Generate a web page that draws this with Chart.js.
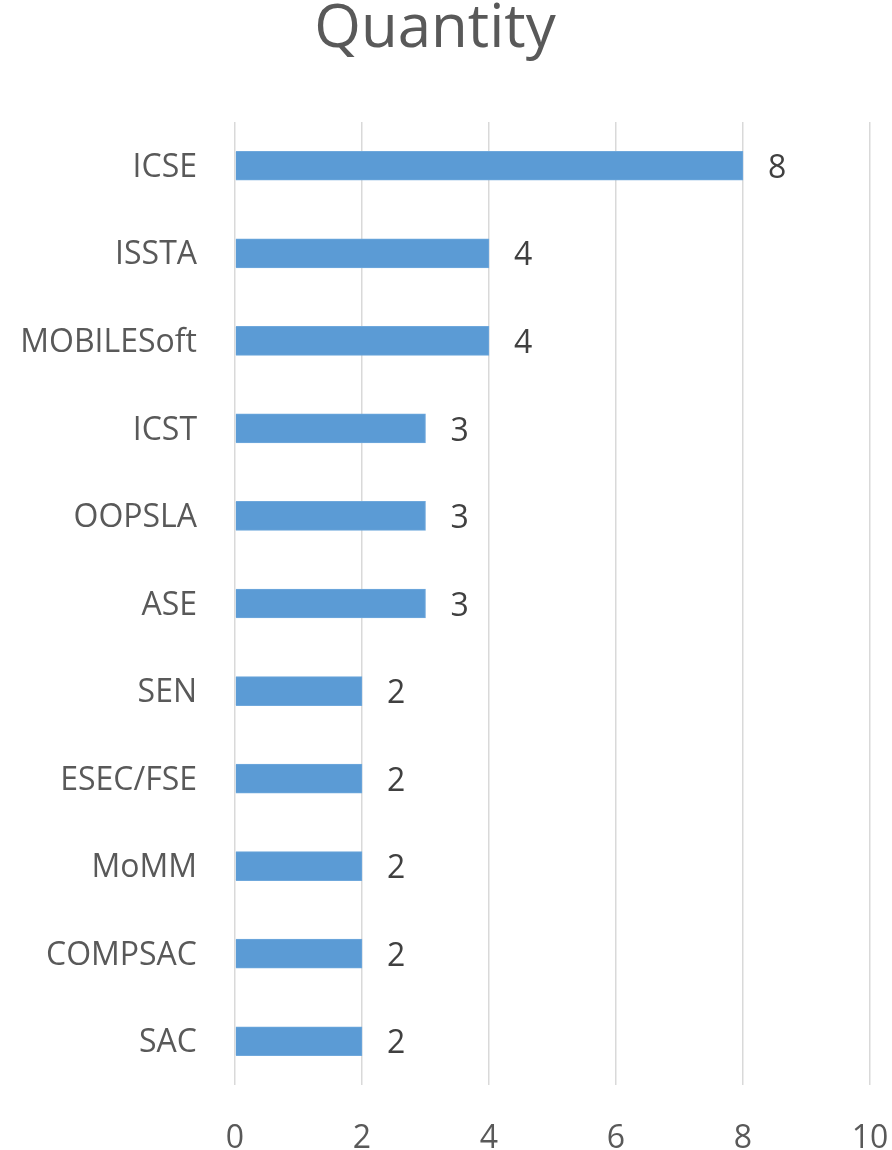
<!DOCTYPE html>
<html>
<head>
<meta charset="utf-8">
<script src="https://cdn.jsdelivr.net/npm/chart.js@4"></script>
<style>
	html, body { margin: 0; padding: 0; background: #fff; }
	#wrap { width: 892px; height: 1150px; }
</style>
</head>
<body>
<div id="wrap"><canvas id="quantityChart"></canvas></div>
<script>
const venues = ["ICSE", "ISSTA", "MOBILESoft", "ICST", "OOPSLA", "ASE", "SEN", "ESEC/FSE", "MoMM", "COMPSAC", "SAC"];
const quantities = [8, 4, 4, 3, 3, 3, 2, 2, 2, 2, 2];
const xTicks = [0, 2, 4, 6, 8, 10];

const fontFamily = "'Open Sans', sans-serif";

// draws the value next to the end of each bar
const valueLabels = {
	id: "valueLabels",
	afterDatasetsDraw(chart) {
		const ctx = chart.ctx;
		const meta = chart.getDatasetMeta(0);
		ctx.save();
		ctx.font = "32px " + fontFamily;
		ctx.fillStyle = "#404040";
		ctx.textAlign = "left";
		ctx.textBaseline = "middle";
		meta.data.forEach((bar, i) => {
			ctx.fillText(String(quantities[i]), bar.x + 25, bar.y + 3);
		});
		ctx.restore();
	}
};

const quantityCtx = document.getElementById("quantityChart");
const quantityChart = new Chart(quantityCtx, {
	type: "bar",
	data: {
		labels: venues,
		datasets: [{
			label: "Quantity",
			data: quantities,
			backgroundColor: "#5B9BD5",
			borderColor: "#6fa8dc",
			borderWidth: 1,
			barThickness: 29
		}]
	},
	plugins: [valueLabels],
	options: {
		indexAxis: "y",
		responsive: true,
		maintainAspectRatio: false,
		animation: false,
		layout: { padding: { left: 0, right: 22, top: 0, bottom: 0 } },
		plugins: {
			legend: { display: false },
			tooltip: { enabled: false },
			title: {
				display: true,
				text: "Quantity",
				color: "#595959",
				font: { family: fontFamily, size: 60, weight: "normal", lineHeight: 1.0 },
				padding: { top: 0, bottom: 62 }
			}
		},
		scales: {
			x: {
				min: 0,
				max: 10,
				afterBuildTicks(scale) {
					scale.ticks = xTicks.map(v => ({ value: v }));
				},
				afterFit(scale) {
					scale.height = 65;
					scale.paddingLeft = 0;
					scale.paddingRight = 0;
				},
				grid: { color: "#d9d9d9", lineWidth: 1.5, drawTicks: false },
				border: { display: false },
				ticks: {
					color: "#595959",
					padding: 35,
					font: { family: fontFamily, size: 32 }
				}
			},
			y: {
				afterFit(scale) {
					scale.width = 235;
				},
				grid: { display: false },
				border: { display: false },
				ticks: {
					color: "#595959",
					padding: 30,
					labelOffset: 2,
					font: { family: fontFamily, size: 32 }
				}
			}
		}
	}
});
</script>
</body>
</html>
